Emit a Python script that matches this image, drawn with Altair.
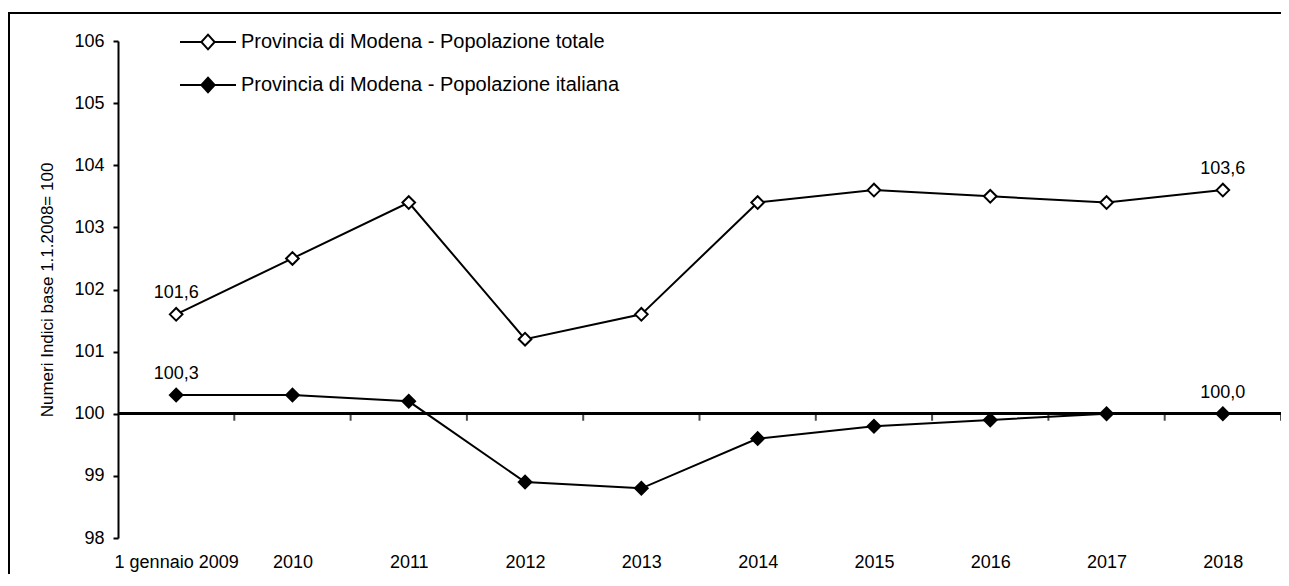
import json
import altair as alt
import pandas as pd

# ---- data ----
anni = ["1 gennaio 2009", "2010", "2011", "2012", "2013",
        "2014", "2015", "2016", "2017", "2018"]
serie = ["Provincia di Modena - Popolazione totale",
         "Provincia di Modena - Popolazione italiana"]
totale = [101.6, 102.5, 103.4, 101.2, 101.6, 103.4, 103.6, 103.5, 103.4, 103.6]
italiana = [100.3, 100.3, 100.2, 98.9, 98.8, 99.6, 99.8, 99.9, 100.0, 100.0]
indici_etichettati = [0, 9]
valori_y = [98, 99, 100, 101, 102, 103, 104, 105, 106]

rows = []
for i, a in enumerate(anni):
    for s, vals in zip(serie, [totale, italiana]):
        v = vals[i]
        rows.append({
            "i": i, "anno": a, "serie": s, "valore": v,
            "etichetta": (f"{v:.1f}".replace(".", ",") if i in indici_etichettati else ""),
        })
df = pd.DataFrame(rows)
confini = pd.DataFrame({"b": [i + 0.5 for i in range(len(anni))]})

FONT = "Liberation Sans"

xscale = alt.Scale(domain=[-0.5, len(anni) - 0.5], nice=False, zero=False)
yscale = alt.Scale(domain=[98, 106], nice=False, zero=False)

x_enc = alt.X(
    "i:Q", scale=xscale,
    axis=alt.Axis(
        values=list(range(len(anni))),
        labelExpr=f"{json.dumps(anni)}[datum.value]",
        ticks=False, domain=False, grid=False, title=None,
        labelFlush=False, labelOverlap=False, labelFontSize=18,
        labelPadding=15, labelColor="black", labelFont=FONT,
    ),
)
y_enc = alt.Y(
    "valore:Q", scale=yscale,
    axis=alt.Axis(
        values=valori_y, format="d", grid=False,
        title="Numeri Indici base 1.1.2008= 100",
        titleFontSize=17, titleFontWeight="normal", titleFont=FONT,
        titleColor="black", titlePadding=17,
        tickSize=5, tickWidth=2, tickColor="black",
        domainWidth=2, domainColor="black",
        labelFontSize=18, labelPadding=9, labelColor="black", labelFont=FONT,
    ),
)

base = alt.Chart(df)

linea100 = alt.Chart(df).mark_rule(color="black", strokeWidth=2).encode(
    y=alt.datum(100, scale=yscale)
)

tacche = alt.Chart(confini).mark_tick(
    orient="vertical", color="black", size=7, thickness=2, yOffset=3.5
).encode(
    x=alt.X("b:Q", scale=xscale),
    y=alt.datum(100),
)

linee = base.mark_line(color="black", strokeWidth=2).encode(
    x=x_enc, y=y_enc, detail="serie:N",
)

legend_path = "M-4,0L-0.95,0M0.95,0L4,0M0,-1.05L0.95,0L0,1.05L-0.95,0Z"

punti = base.mark_point(
    shape="diamond", filled=True, size=160, stroke="black",
    strokeWidth=2, opacity=1,
).encode(
    x=alt.X("i:Q", scale=xscale),
    y=alt.Y("valore:Q", scale=yscale),
    fill=alt.Fill(
        "serie:N",
        scale=alt.Scale(domain=serie, range=["white", "black"]),
        legend=alt.Legend(
            orient="none", legendX=62, legendY=-9, title=None,
            symbolType=legend_path, symbolSize=196,
            symbolStrokeColor="black", symbolStrokeWidth=2,
            symbolOffset=18, labelOffset=23, rowPadding=19, padding=0,
            labelFontSize=20, labelFont=FONT, labelColor="black",
            labelLimit=0,
        ),
    ),
)

etichette = base.transform_filter("datum.etichetta != ''").mark_text(
    dy=-21, fontSize=18, font=FONT, color="black"
).encode(
    x=alt.X("i:Q", scale=xscale),
    y=alt.Y("valore:Q", scale=yscale),
    text="etichetta:N",
)

cornice_sx = alt.Chart(df).mark_rule(color="black", strokeWidth=2).encode(
    x=alt.value(-109), y=alt.value(-29), y2=alt.value(545)
)
cornice_top = alt.Chart(df).mark_rule(color="black", strokeWidth=2).encode(
    x=alt.value(-110), x2=alt.value(1175), y=alt.value(-28)
)

chart = alt.layer(
    cornice_sx, cornice_top, linea100, tacche, linee, punti, etichette
).properties(
    width=1163, height=497,
    autosize=alt.AutoSizeParams(type="none"),
    padding={"left": 110, "top": 33, "right": 0, "bottom": 36},
).configure(background="white").configure_view(stroke=None)

chart.save("out.html", embed_options={"renderer": "svg", "actions": False})
